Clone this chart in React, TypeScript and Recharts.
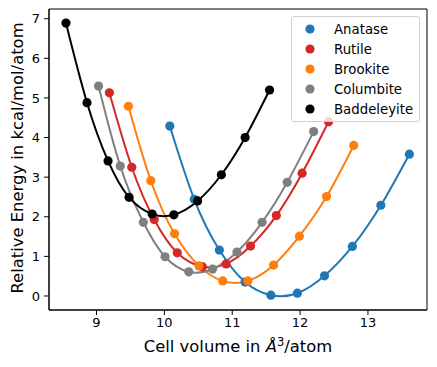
import { Label, Legend, Line, LineChart, ReferenceArea, XAxis, YAxis } from "recharts";

// cell volume (Å^3/atom) and relative energy (kcal/mol/atom)
const anataseV = [10.08, 10.44, 10.81, 11.19, 11.57, 11.96, 12.36, 12.77, 13.19, 13.61];
const anataseE = [4.29, 2.44, 1.16, 0.35, 0.02, 0.07, 0.51, 1.25, 2.29, 3.58];
const rutileV = [9.19, 9.52, 9.85, 10.19, 10.56, 10.91, 11.27, 11.65, 12.03, 12.42];
const rutileE = [5.13, 3.25, 1.93, 1.09, 0.74, 0.81, 1.26, 2.03, 3.1, 4.4];
const brookiteV = [9.47, 9.8, 10.15, 10.51, 10.86, 11.23, 11.61, 11.99, 12.39, 12.79];
const brookiteE = [4.79, 2.91, 1.57, 0.76, 0.38, 0.38, 0.78, 1.51, 2.51, 3.8];
const columbiteV = [9.03, 9.35, 9.69, 10.01, 10.36, 10.71, 11.07, 11.44, 11.81, 12.2];
const columbiteE = [5.3, 3.28, 1.86, 0.99, 0.61, 0.68, 1.11, 1.86, 2.87, 4.15];
const baddeleyiteV = [8.55, 8.86, 9.17, 9.48, 9.82, 10.14, 10.49, 10.84, 11.19, 11.55];
const baddeleyiteE = [6.89, 4.88, 3.41, 2.49, 2.07, 2.05, 2.4, 3.06, 4.0, 5.2];

const xTicks = [9, 10, 11, 12, 13];
const yTicks = [0, 1, 2, 3, 4, 5, 6, 7];

const toRows = (v: number[], e: number[]) => v.map((x, i) => ({ v: x, e: e[i] }));

const series = [
  { name: "Anatase", color: "#1f77b4", data: toRows(anataseV, anataseE) },
  { name: "Rutile", color: "#d62728", data: toRows(rutileV, rutileE) },
  { name: "Brookite", color: "#ff7f0e", data: toRows(brookiteV, brookiteE) },
  { name: "Columbite", color: "#7f7f7f", data: toRows(columbiteV, columbiteE) },
  { name: "Baddeleyite", color: "#000000", data: toRows(baddeleyiteV, baddeleyiteE) },
];

const font = "DejaVu Sans";

const LegendBox = () => (
  <div
    style={{
      background: "rgba(255,255,255,0.8)",
      border: "1px solid #d0d0d0",
      borderRadius: 3,
      padding: "2px 0 2px 13px",
      fontFamily: font,
      fontSize: 13.3,
      color: "#000",
      width: 114,
    }}
  >
    {series.map((s) => (
      <div key={s.name} style={{ display: "flex", alignItems: "center", height: 20 }}>
        <svg width={10} height={10} style={{ marginRight: 19, flex: "none" }}>
          <circle cx={5} cy={5} r={4.6} fill={s.color} />
        </svg>
        <span>{s.name}</span>
      </div>
    ))}
  </div>
);

const XLabel = (props: any) => {
  const vb = props.viewBox;
  return (
    <text x={vb.x + vb.width / 2} y={351.5} textAnchor="middle" fontFamily={font} fontSize={16.4} fill="#000">
      Cell volume in <tspan fontStyle="italic">Å</tspan>
      <tspan dy={-6} fontSize={11.5}>3</tspan>
      <tspan dy={6}>/atom</tspan>
    </text>
  );
};

const YLabel = () => (
  <text
    x={23}
    y={158}
    transform="rotate(-90 23 158)"
    textAnchor="middle"
    fontFamily={font}
    fontSize={16.4}
    fill="#000"
  >
    Relative Energy in kcal/mol/atom
  </text>
);

export default function App() {
  return (
    <div style={{ position: "absolute", left: 0, top: 0, fontFamily: font }}>
      <LineChart width={437} height={367} margin={{ top: 9, right: 10, bottom: 0, left: 0 }}>
        <XAxis
          type="number"
          dataKey="v"
          domain={[8.3, 13.87]}
          allowDataOverflow
          ticks={xTicks}
          height={57}
          tickSize={5}
          tickMargin={3}
          tick={{ fill: "#000", fontSize: 13, fontFamily: font }}
          tickLine={{ stroke: "#000" }}
          axisLine={{ stroke: "#000" }}
        >
          <Label content={<XLabel />} />
        </XAxis>
        <YAxis
          type="number"
          dataKey="e"
          domain={[-0.354, 7.245]}
          allowDataOverflow
          ticks={yTicks}
          width={49}
          tickSize={5}
          tickMargin={4}
          tick={{ fill: "#000", fontSize: 13, fontFamily: font }}
          tickLine={{ stroke: "#000" }}
          axisLine={{ stroke: "#000" }}
        >
          <Label content={<YLabel />} />
        </YAxis>
        <ReferenceArea x1={8.3} x2={13.87} y1={-0.354} y2={7.245} fill="none" stroke="#000" strokeWidth={1} />
        {series.map((s) => (
          <Line
            key={s.name}
            data={s.data}
            dataKey="e"
            name={s.name}
            type="natural"
            stroke={s.color}
            strokeWidth={2}
            dot={{ r: 4.6, fill: s.color, stroke: s.color, strokeWidth: 0 }}
            activeDot={false}
            isAnimationActive={false}
          />
        ))}
        <Legend
          layout="vertical"
          align="center"
          verticalAlign="middle"
          content={<LegendBox />}
          wrapperStyle={{ position: "absolute", left: 291, top: 16, width: "auto" }}
        />
      </LineChart>
    </div>
  );
}
